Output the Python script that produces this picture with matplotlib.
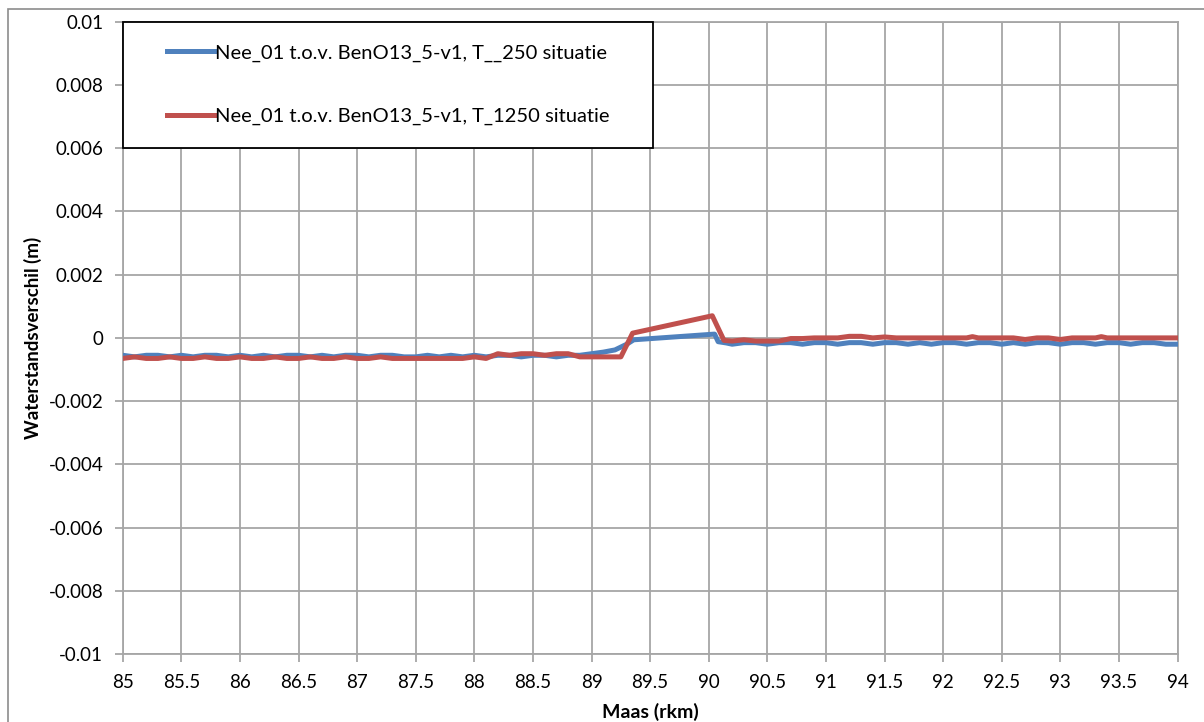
import matplotlib
matplotlib.use("Agg")
import matplotlib.pyplot as plt
import matplotlib.ticker as mticker
from matplotlib.patches import Rectangle

# Waterstandsverschil langs de Maas (rkm)
x_blauw = [85.0, 85.1, 85.2, 85.3, 85.4, 85.5, 85.6, 85.7, 85.8, 85.9,
           86.0, 86.1, 86.2, 86.3, 86.4, 86.5, 86.6, 86.7, 86.8, 86.9,
           87.0, 87.1, 87.2, 87.3, 87.4, 87.5, 87.6, 87.7, 87.8, 87.9,
           88.0, 88.1, 88.2, 88.3, 88.4, 88.5, 88.6, 88.7, 88.8, 88.9,
           89.0, 89.1, 89.2, 89.3, 89.36, 90.05, 90.08, 90.15, 90.2, 90.3,
           90.4, 90.5, 90.6, 90.7, 90.8, 90.9, 91.0, 91.1, 91.2, 91.3,
           91.4, 91.5, 91.6, 91.7, 91.8, 91.9, 92.0, 92.1, 92.2, 92.3,
           92.4, 92.5, 92.6, 92.7, 92.8, 92.9, 93.0, 93.1, 93.2, 93.3,
           93.4, 93.5, 93.6, 93.7, 93.8, 93.9, 94.0]
y_blauw = [-0.00055, -0.0006, -0.00055, -0.00055, -0.0006, -0.00055, -0.0006, -0.00055, -0.00055, -0.0006,
           -0.00055, -0.0006, -0.00055, -0.0006, -0.00055, -0.00055, -0.0006, -0.00055, -0.0006, -0.00055,
           -0.00055, -0.0006, -0.00055, -0.00055, -0.0006, -0.0006, -0.00055, -0.0006, -0.00055, -0.0006,
           -0.00055, -0.0006, -0.00055, -0.00055, -0.0006, -0.00055, -0.00055, -0.0006, -0.00055, -0.00055,
           -0.0005, -0.00045, -0.00038, -0.0002, -0.00006, 0.00012, -0.00012, -0.00016, -0.0002, -0.00015,
           -0.00015, -0.0002, -0.00015, -0.00015, -0.0002, -0.00015, -0.00015, -0.0002, -0.00015, -0.00015,
           -0.0002, -0.00015, -0.00015, -0.0002, -0.00015, -0.0002, -0.00015, -0.00015, -0.0002, -0.00015,
           -0.00015, -0.0002, -0.00015, -0.0002, -0.00015, -0.00015, -0.0002, -0.00015, -0.00015, -0.0002,
           -0.00015, -0.00015, -0.0002, -0.00015, -0.00015, -0.0002, -0.0002]

x_rood = [85.0, 85.1, 85.2, 85.3, 85.4, 85.5, 85.6, 85.7, 85.8, 85.9,
          86.0, 86.1, 86.2, 86.3, 86.4, 86.5, 86.6, 86.7, 86.8, 86.9,
          87.0, 87.1, 87.2, 87.3, 87.4, 87.5, 87.6, 87.7, 87.8, 87.9,
          88.0, 88.1, 88.2, 88.3, 88.4, 88.5, 88.6, 88.7, 88.8, 88.9,
          89.0, 89.1, 89.25, 89.35, 90.03, 90.13, 90.2, 90.3, 90.4, 90.5,
          90.6, 90.7, 90.8, 90.9, 91.0, 91.1, 91.2, 91.3, 91.4, 91.5,
          91.6, 91.7, 91.8, 91.9, 92.0, 92.1, 92.2, 92.25, 92.3, 92.4,
          92.5, 92.6, 92.7, 92.8, 92.9, 93.0, 93.1, 93.2, 93.3, 93.35,
          93.4, 93.5, 93.6, 93.7, 93.8, 93.9, 94.0]
y_rood = [-0.00065, -0.0006, -0.00065, -0.00065, -0.0006, -0.00065, -0.00065, -0.0006, -0.00065, -0.00065,
          -0.0006, -0.00065, -0.00065, -0.0006, -0.00065, -0.00065, -0.0006, -0.00065, -0.00065, -0.0006,
          -0.00065, -0.00065, -0.0006, -0.00065, -0.00065, -0.00065, -0.00065, -0.00065, -0.00065, -0.00065,
          -0.0006, -0.00065, -0.0005, -0.00055, -0.0005, -0.0005, -0.00055, -0.0005, -0.0005, -0.0006,
          -0.0006, -0.0006, -0.0006, 0.00015, 0.0007, -0.00008, -0.0001, -0.00006, -0.0001, -0.0001,
          -0.0001, -0.00002, -0.00002, 0.0, 0.0, 0.0, 0.00005, 0.00005, 0.0, 0.00003,
          0.0, 0.0, 0.0, 0.0, 0.0, 0.0, 0.0, 0.00004, 0.0, 0.0,
          0.0, 0.0, -0.00005, 0.0, 0.0, -0.00005, 0.0, 0.0, 0.0, 0.00004,
          0.0, 0.0, 0.0, 0.0, 0.0, 0.0, 0.0]

labels = ["Nee_01 t.o.v. BenO13_5-v1, T__250 situatie",
          "Nee_01 t.o.v. BenO13_5-v1, T_1250 situatie"]
kleuren = ["#4f81bd", "#c0504d"]

plt.rcParams.update({
    "font.family": ["Lato", "DejaVu Sans"],
    "font.size": 13.5,
})

fig = plt.figure(figsize=(12.04, 7.22), dpi=100, facecolor="white")
ax = fig.add_axes([0.102, 0.094, 0.876, 0.876])

ax.plot(x_blauw, y_blauw, color=kleuren[0], lw=3.6, label=labels[0],
        solid_joinstyle="round", zorder=3)
ax.plot(x_rood, y_rood, color=kleuren[1], lw=3.6, label=labels[1],
        solid_joinstyle="round", zorder=3)

ax.set_xlim(85, 94)
ax.set_ylim(-0.01, 0.01)
ax.xaxis.set_major_locator(mticker.MultipleLocator(0.5))
ax.yaxis.set_major_locator(mticker.MultipleLocator(0.002))
ax.xaxis.set_major_formatter(mticker.FuncFormatter(lambda v, _: f"{round(v, 1):g}"))
ax.yaxis.set_major_formatter(mticker.FuncFormatter(lambda v, _: f"{round(v, 4):g}"))

ax.grid(True, color="#a6a6a6", lw=1.3)
ax.set_axisbelow(True)
for s in ax.spines.values():
    s.set_color("#a6a6a6")
    s.set_linewidth(1.3)
ax.tick_params(direction="out", length=6, width=1.3, color="#a6a6a6",
               labelsize=13.5, pad=8)

ax.set_xlabel("Maas (rkm)", fontweight="bold", fontsize=14, labelpad=9)
ax.set_ylabel("Waterstandsverschil (m)", fontweight="bold", fontsize=13.5, labelpad=5)

# Legendakader: wit vlak met zwarte rand, linksboven in de grafiek
lw_box, lh_box = 0.503, 0.200
ax.add_patch(Rectangle((0, 1 - lh_box), lw_box, lh_box, transform=ax.transAxes,
                       facecolor="white", edgecolor="black", lw=1.3,
                       zorder=4, clip_on=False))
leg = ax.legend(loc="center", bbox_to_anchor=(lw_box / 2, 1 - lh_box / 2),
                fontsize=14.5, handlelength=2.4, handletextpad=0.0,
                labelspacing=2.3, frameon=False)
leg.set_zorder(5)

# Rand rond het grafiekgebied
fig.patches.append(Rectangle((8 / 1204, -0.01), 1.02, 1 - 9 / 722 + 0.01,
                             transform=fig.transFigure, fill=False,
                             edgecolor="#8c8c8c", lw=1.2))

fig.savefig("out.png", dpi=100)
